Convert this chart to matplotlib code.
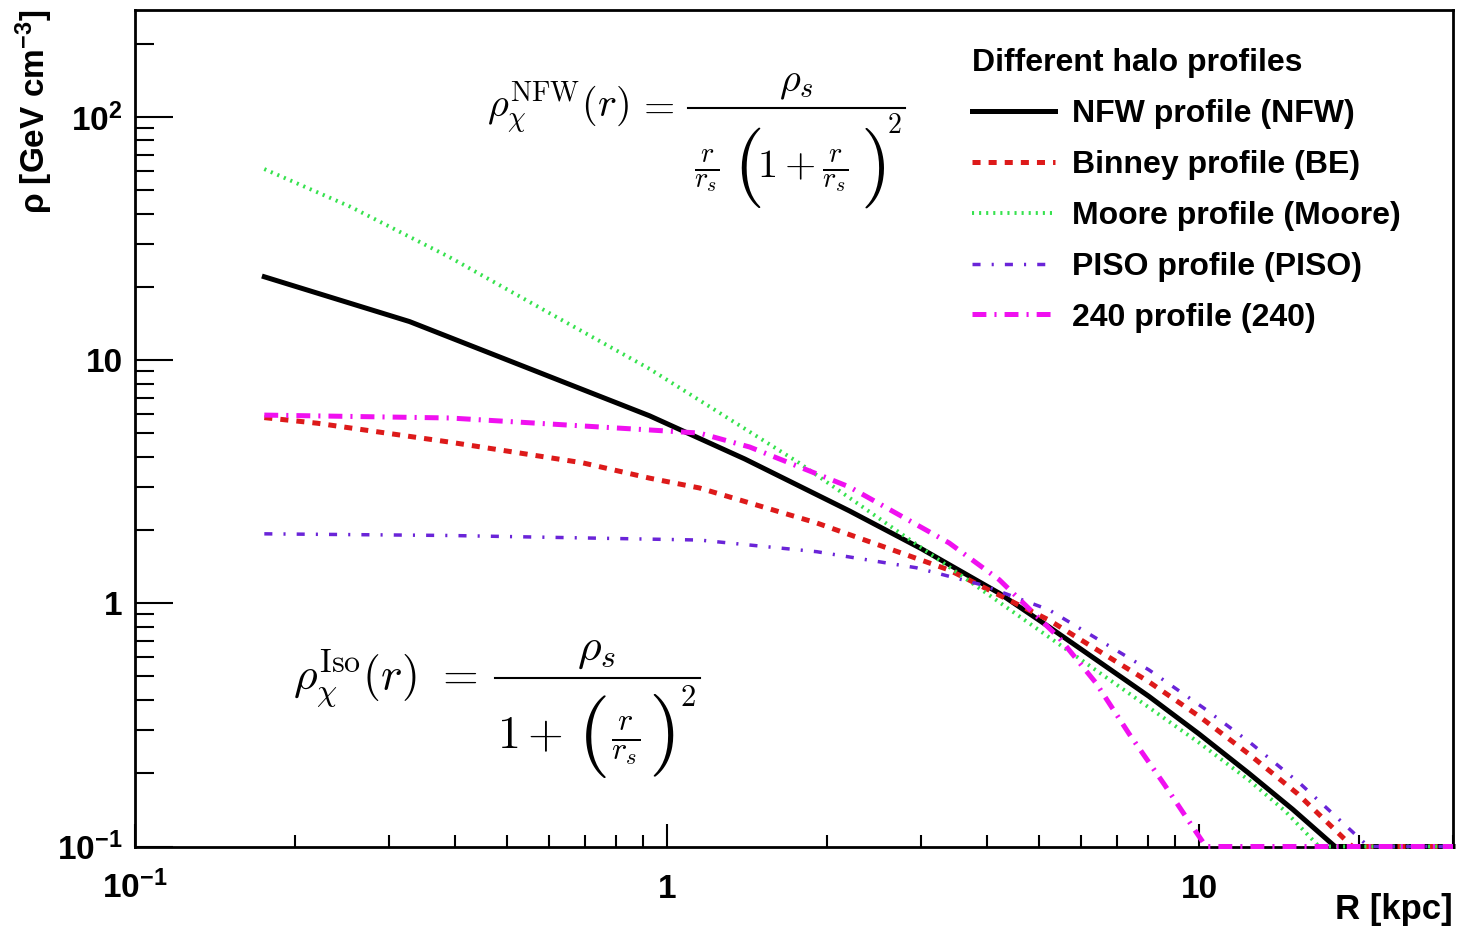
import matplotlib
matplotlib.use("Agg")
import matplotlib.pyplot as plt
from matplotlib.lines import Line2D
from matplotlib.ticker import LogLocator, NullFormatter

# Radius grid points [kpc] and densities [GeV cm^-3] for each halo profile
r_nfw = [0.175, 0.328, 0.927, 1.40, 2.20, 3.0, 4.21, 5.22, 8.05, 10.0, 12.4, 15.0, 18.0, 30.0]
rho_nfw = [22.0, 14.4, 5.9, 3.92, 2.40, 1.68, 1.10, 0.80, 0.414, 0.29, 0.20, 0.142, 0.1, 0.1]

r_be = [0.175, 0.22, 0.39, 0.694, 0.927, 1.15, 1.91, 3.39, 5.22, 8.05, 10.0, 12.4, 15.3, 19.4, 30.0]
rho_be = [5.8, 5.5, 4.6, 3.78, 3.27, 2.98, 2.14, 1.37, 0.853, 0.475, 0.343, 0.24, 0.165, 0.1, 0.1]

r_moore = [0.175, 0.254, 0.390, 0.601, 0.927, 1.77, 3.39, 5.22, 10.0, 12.4, 14.5, 16.8, 30.0]
rho_moore = [61.0, 42.7, 26.5, 15.6, 9.2, 3.78, 1.41, 0.726, 0.267, 0.1875, 0.14, 0.1, 0.1]

r_piso = [0.175, 0.39, 1.15, 1.91, 2.94, 3.91, 5.22, 8.05, 10.2, 12.4, 15.5, 20.8, 30.0]
rho_piso = [1.93, 1.90, 1.82, 1.63, 1.40, 1.19, 0.94, 0.532, 0.371, 0.27, 0.181, 0.1, 0.1]

r_240 = [0.175, 0.39, 0.927, 1.15, 1.43, 2.20, 3.39, 4.21, 5.46, 6.4, 7.39, 8.6, 9.86, 10.3, 30.0]
rho_240 = [5.94, 5.78, 5.16, 5.01, 4.39, 3.01, 1.77, 1.25, 0.72, 0.47, 0.29, 0.18, 0.115, 0.1, 0.1]

labels = ["NFW profile (NFW)", "Binney profile (BE)", "Moore profile (Moore)",
          "PISO profile (PISO)", "240 profile (240)"]
legend_title = "Different halo profiles"

x_ticks = [0.1, 1, 10]
x_ticklabels = [r"$10^{-1}$", "1", "10"]
y_ticks = [0.1, 1, 10, 100]
y_ticklabels = [r"$10^{-1}$", "1", "10", r"$10^{2}$"]

plt.rcParams["font.family"] = ["Liberation Sans", "DejaVu Sans"]
plt.rcParams["font.weight"] = "bold"
plt.rcParams["mathtext.fontset"] = "custom"
plt.rcParams["mathtext.rm"] = "Liberation Sans:bold"
plt.rcParams["mathtext.it"] = "Liberation Sans:bold:italic"
plt.rcParams["mathtext.bf"] = "Liberation Sans:bold"
plt.rcParams["lines.scale_dashes"] = False

W, H = 1459, 926
fig = plt.figure(figsize=(W / 100, H / 100), dpi=100)
ax = fig.add_axes([135 / W, 1 - 846.5 / H, (1453 - 135) / W, (846.5 - 10) / H])
ax.set_xscale("log")
ax.set_yscale("log")
ax.set_xlim(0.1, 30)
ax.set_ylim(0.1, 275)

styles = [
    dict(color="black", lw=3.6, ls="-"),
    dict(color="#dd1a1a", lw=3.6, dashes=(5.8, 5.8)),
    dict(color="#36e24e", lw=2.8, dashes=(1.5, 3.6)),
    dict(color="#6a24d8", lw=2.5, dashes=(5.8, 8.0, 1.5, 8.0)),
    dict(color="#f010f0", lw=3.6, dashes=(10.0, 5.8, 1.5, 5.8)),
]
series = [(r_nfw, rho_nfw), (r_be, rho_be), (r_moore, rho_moore),
          (r_piso, rho_piso), (r_240, rho_240)]
for (r, rho), lab, st in zip(series, labels, styles):
    ax.plot(r, rho, label=lab, clip_on=False, zorder=3, **st)

for s in ax.spines.values():
    s.set_linewidth(2.0)

ax.set_xticks(x_ticks, x_ticklabels)
ax.set_yticks(y_ticks, y_ticklabels)
ax.xaxis.set_minor_locator(LogLocator(base=10, subs=range(2, 10), numticks=20))
ax.yaxis.set_minor_locator(LogLocator(base=10, subs=range(2, 10), numticks=20))
ax.xaxis.set_minor_formatter(NullFormatter())
ax.yaxis.set_minor_formatter(NullFormatter())
ax.tick_params(which="both", direction="in", top=False, right=False, width=1.5)
ax.tick_params(axis="y", which="major", length=27, pad=9, labelsize=24)
ax.tick_params(axis="y", which="minor", length=13.7)
ax.tick_params(axis="x", which="major", length=16.8, pad=37, labelsize=24)
ax.tick_params(axis="x", which="minor", length=8.6)
for t in ax.xaxis.get_major_ticks():
    t.label1.set_verticalalignment("baseline")

ax.set_ylabel(r"ρ [GeV cm$^{-3}$]", fontsize=24, fontweight="bold", loc="top")
ax.yaxis.set_label_coords(-0.061, 1.0)
ax.set_xlabel("R [kpc]", fontsize=25, fontweight="bold", loc="right")
ax.xaxis.set_label_coords(1.0, -0.056)

ax.legend(title=legend_title, loc="upper left",
          bbox_to_anchor=(972 / W, 1 - 48 / H), bbox_transform=fig.transFigure,
          frameon=False, prop={"weight": "bold", "size": 23},
          title_fontproperties={"weight": "bold", "size": 23},
          alignment="left", handlelength=2.6, handletextpad=0.53,
          labelspacing=0.655, borderpad=0, borderaxespad=0)


# ---- density formulas, typeset piece by piece (positions in pixels) ----
def put(x, y, s, size, ha="left", va="baseline"):
    fig.text(x / W, 1 - y / H, s, fontsize=size, ha=ha, va=va,
             math_fontfamily="cm", fontweight="normal", color="black")


def bar(x0, x1, y):
    fig.add_artist(Line2D([x0 / W, x1 / W], [1 - y / H, 1 - y / H],
                          transform=fig.transFigure, color="black", lw=1.5))


# NFW: rho_s / [ (r/r_s) (1 + r/r_s)^2 ]
fs, fs_paren, fs_sup = 29, 57, 20
put(487, 118, r"$\rho_{\chi}^{\mathrm{NFW}}(r)$", fs)
put(655, 118, r"$=$", fs, ha="center")
put(796, 91, r"$\rho_s$", fs, ha="center")
bar(688, 905, 108)
put(707, 178, r"$\frac{r}{r_s}$", fs, ha="center")
put(747, 168, r"$($", fs_paren, ha="center", va="center")
put(757, 178, r"$1+\frac{r}{r_s}$", fs)
put(872, 168, r"$)$", fs_paren, ha="center", va="center")
put(894, 126, r"$2$", fs_sup, ha="center", va="center")

# Cored isothermal: rho_s / [ 1 + (r/r_s)^2 ]
fs, fs_paren, fs_sup = 33, 60, 22
put(293, 689, r"$\rho_{\chi}^{\mathrm{Iso}}(r)$", fs)
put(456, 689, r"$=$", fs, ha="center")
put(597, 660, r"$\rho_s$", fs, ha="center")
bar(495, 700, 678)
put(497, 748, r"$1+$", fs)
put(592, 736, r"$($", fs_paren, ha="center", va="center")
put(626, 748, r"$\frac{r}{r_s}$", fs, ha="center")
put(661, 736, r"$)$", fs_paren, ha="center", va="center")
put(688, 698, r"$2$", fs_sup, ha="center", va="center")

fig.savefig("out.png", dpi=100)
